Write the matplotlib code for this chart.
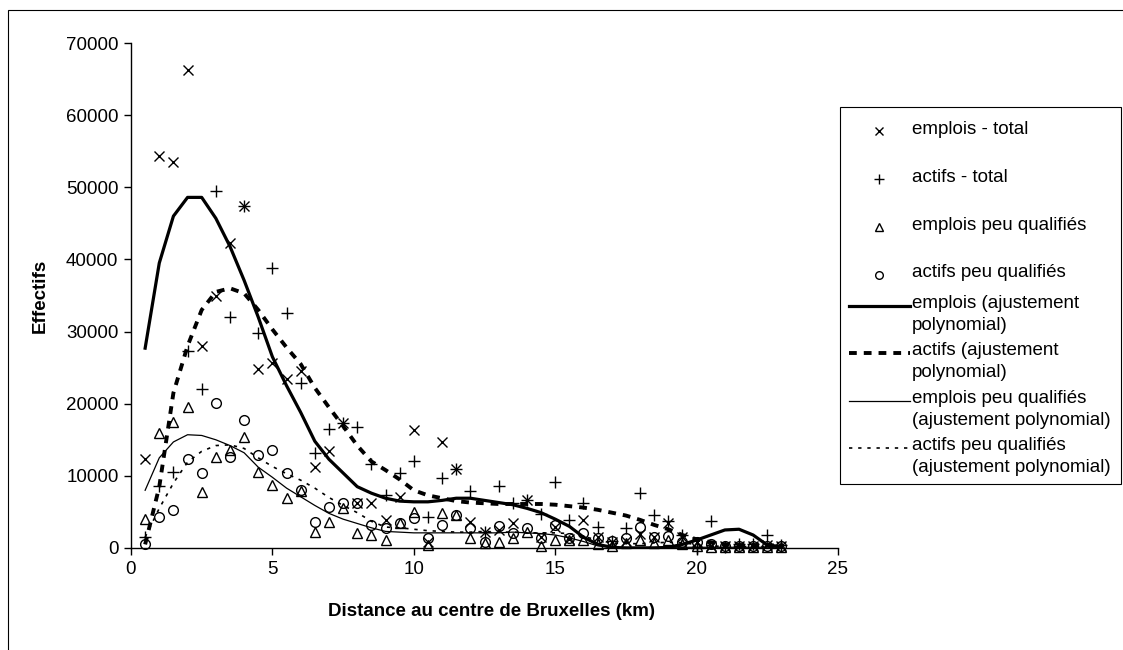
import matplotlib
matplotlib.use("Agg")
import matplotlib.pyplot as plt
from matplotlib.lines import Line2D
from matplotlib.patches import Rectangle

plt.rcParams['font.family'] = ['Liberation Sans', 'DejaVu Sans']

# distance (km)
distance = [0.5, 1.0, 1.5, 2.0, 2.5, 3.0, 3.5, 4.0, 4.5, 5.0,
            5.5, 6.0, 6.5, 7.0, 7.5, 8.0, 8.5, 9.0, 9.5, 10.0,
            10.5, 11.0, 11.5, 12.0, 12.5, 13.0, 13.5, 14.0, 14.5, 15.0,
            15.5, 16.0, 16.5, 17.0, 17.5, 18.0, 18.5, 19.0, 19.5, 20.0,
            20.5, 21.0, 21.5, 22.0, 22.5, 23.0]

emplois_total = [12300, 54400, 53500, 66300, 28000, 34900, 42300, 47400, 24800, 25600,
                 23400, 24500, 11200, 13400, 17300, 6300, 6300, 3900, 7100, 16400,
                 800, 14700, 11000, 3600, 2200, 2500, 3500, 6700, 1500, 2900,
                 1300, 3900, 1500, 800, 1000, 2000, 1500, 3500, 1500, 800,
                 300, 300, 300, 300, 400, 300]

actifs_total = [1500, 8600, 10500, 27300, 22000, 49500, 32000, 47400, 29800, 38800,
                32600, 22900, 13200, 16500, 17300, 16800, 11700, 7300, 10400, 12100,
                4300, 9700, 11000, 7900, 2200, 8600, 6200, 6700, 4700, 9200,
                3900, 6300, 2900, 1000, 2800, 7600, 4600, 3700, 1800, 0,
                3700, 200, 500, 600, 1800, 400]

emplois_pq = [4000, 15900, 17500, 19500, 7800, 12600, 13600, 15400, 10500, 8700,
              6900, 7900, 2200, 3600, 5500, 2100, 1800, 1100, 3500, 5000,
              400, 4800, 4600, 1400, 700, 900, 1400, 2200, 300, 1100,
              1100, 1100, 500, 300, 700, 1100, 700, 1100, 500, 300,
              200, 100, 100, 100, 100, 100]

actifs_pq = [600, 4300, 5300, 12300, 10400, 20100, 12600, 17700, 12900, 13600,
             10400, 8000, 3600, 5700, 6200, 6300, 3200, 2800, 3500, 4200,
             1400, 3200, 4600, 2800, 900, 3000, 2100, 2800, 1400, 3200,
             1400, 2100, 1400, 1000, 1400, 2900, 1500, 1600, 800, 800,
             500, 300, 300, 300, 300, 300]

# fitted curves
emplois_fit = [27700, 39500, 46000, 48600, 48600, 45700, 41800, 37100, 32000, 26500,
               22500, 18800, 14800, 12300, 10400, 8500, 7600, 6900, 6500, 6400,
               6400, 6600, 6900, 6900, 6600, 6300, 6000, 5500, 4900, 4000,
               3000, 1500, 500, 100, 0, 0, 0, 100, 500, 1100,
               1800, 2500, 2600, 1800, 400, 200]

actifs_fit = [500, 8500, 21500, 28000, 33000, 35500, 36000, 35300, 33000, 30300,
              27800, 25500, 22200, 19500, 16900, 14200, 12000, 10800, 9500, 8000,
              7300, 6900, 6500, 6300, 6200, 6100, 6100, 6100, 6100, 6000,
              5800, 5600, 5300, 4900, 4500, 3900, 3200, 2600, 1800, 1200,
              800, 500, 400, 400, 400, 300]

emplois_pq_fit = [8000, 12500, 14700, 15700, 15600, 15000, 14200, 13200, 11200, 9800,
                  8300, 7100, 5900, 4800, 4000, 3400, 2800, 2300, 2200, 2100,
                  2100, 2100, 2100, 2100, 2100, 2100, 2200, 2100, 2000, 1800,
                  1400, 900, 300, 100, 100, 100, 100, 100, 100, 100,
                  100, 100, 100, 100, 100, 100]

actifs_pq_fit = [1500, 5500, 9000, 11900, 13400, 14200, 14300, 13800, 12500, 11300,
                 10300, 9400, 8300, 7000, 5900, 4900, 3700, 2900, 2800, 2600,
                 2400, 2300, 2200, 2200, 2300, 2200, 2200, 2100, 2100, 2100,
                 2000, 1600, 1100, 700, 600, 600, 700, 800, 700, 500,
                 300, 200, 200, 200, 200, 200]

x_ticks = [0, 5, 10, 15, 20, 25]
y_ticks = [0, 10000, 20000, 30000, 40000, 50000, 60000, 70000]

W, H = 1123, 650
fig = plt.figure(figsize=(W / 100, H / 100), dpi=100)
fig.patch.set_facecolor('white')

# outer frame
fig.patches.append(Rectangle((8 / W, -0.1), 2.0, 1.1 - 10 / H, transform=fig.transFigure,
                             fill=False, edgecolor='black', linewidth=0.8))

ax = fig.add_axes([131 / W, (H - 548) / H, (838 - 131) / W, (548 - 43) / H])
ax.set_xlim(0, 25)
ax.set_ylim(0, 70000)
ax.set_xticks(x_ticks)
ax.set_yticks(y_ticks)
for s in ['top', 'right']:
    ax.spines[s].set_visible(False)
for s in ['left', 'bottom']:
    ax.spines[s].set_linewidth(1.0)
ax.tick_params(direction='out', length=5, width=1.0, labelsize=13.5, pad=4)
ax.set_xlabel('Distance au centre de Bruxelles (km)', fontsize=13.5, fontweight='bold')
ax.set_ylabel('Effectifs', fontsize=13.5, fontweight='bold')
ax.xaxis.set_label_coords(0.51, -(612 - 548) / 505)
ax.yaxis.set_label_coords((40 - 131) / 707, 0.5)
ax.xaxis.label.set_va('center')
ax.yaxis.label.set_va('center')

ax.plot(distance, emplois_total, linestyle='none', marker='x', ms=7.5, mew=1.0, color='black', clip_on=False)
ax.plot(distance, actifs_total, linestyle='none', marker='+', ms=8, mew=1.0, color='black', clip_on=False)
ax.plot(distance, emplois_pq, linestyle='none', marker='^', ms=7.5, mew=1.0, mfc='none', mec='black', clip_on=False)
ax.plot(distance, actifs_pq, linestyle='none', marker='o', ms=7, mew=1.0, mfc='none', mec='black', clip_on=False)

ax.plot(distance, emplois_fit, color='black', lw=2.3, solid_joinstyle='round')
ax.plot(distance, actifs_fit, color='black', lw=2.8, dashes=(2.0, 1.8))
ax.plot(distance, emplois_pq_fit, color='black', lw=0.9)
ax.plot(distance, actifs_pq_fit, color='black', lw=1.2, dashes=(2.0, 3.5))

# legend (drawn manually to match the layout)
def fx(px):
    return px / W

def fy(py):
    return 1 - py / H

fig.patches.append(Rectangle((fx(840), fy(484)), fx(1121) - fx(840), fy(107) - fy(484),
                             transform=fig.transFigure, fill=False, edgecolor='black', linewidth=0.8))
fs = 13.5
marker_entries = [
    ('x', 'emplois - total', 129, dict(ms=5.5, mew=1.0, color='black')),
    ('+', 'actifs - total', 177, dict(ms=6.5, mew=1.0, color='black')),
    ('^', 'emplois peu qualifiés', 225, dict(ms=6, mew=1.0, mfc='none', mec='black')),
    ('o', 'actifs peu qualifiés', 273, dict(ms=5.5, mew=1.0, mfc='none', mec='black')),
]
for m, lab, py, kw in marker_entries:
    fig.add_artist(Line2D([fx(879)], [fy(py + 2)], marker=m, linestyle='none',
                          transform=fig.transFigure, **kw))
    fig.text(fx(912), fy(py), lab, fontsize=fs, va='center', ha='left')

line_entries = [
    ('emplois (ajustement\npolynomial)', 306, dict(lw=2.3)),
    ('actifs (ajustement\npolynomial)', 353, dict(lw=2.8, dashes=(2.0, 1.8))),
    ('emplois peu qualifiés\n(ajustement polynomial)', 401, dict(lw=0.9)),
    ('actifs peu qualifiés\n(ajustement polynomial)', 448, dict(lw=1.2, dashes=(2.0, 3.5))),
]
for lab, py, kw in line_entries:
    fig.add_artist(Line2D([fx(849), fx(910)], [fy(py), fy(py)], color='black',
                          transform=fig.transFigure, **kw))
    fig.text(fx(912), fy(py - 11), lab, fontsize=fs, va='top', ha='left', linespacing=1.4)

fig.savefig('out.png', dpi=100, facecolor='white')
